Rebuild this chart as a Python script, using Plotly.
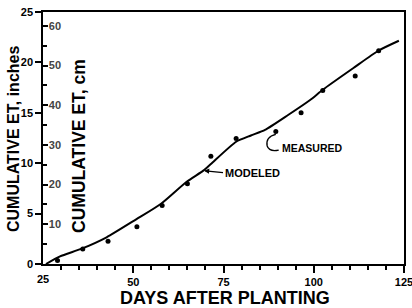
import plotly.graph_objects as go

# Measured cumulative ET (inches) by days after planting
measured_days = [29, 36, 43, 51, 58, 65, 71.5, 78.5, 89.5, 96.5, 102.5, 111.5, 118]
measured_et = [0.35, 1.5, 2.25, 3.7, 5.8, 7.95, 10.7, 12.45, 13.15, 15.0, 17.2, 18.65, 21.15]

# Modeled cumulative ET (inches)
modeled_days = [25.8, 29.7, 35.7, 42.6, 50.8, 57.6, 64.8, 69.4, 71.5, 78.5, 82.6, 86.5, 92.9, 99, 102.6, 111, 118, 123.6]
modeled_et = [0, 0.75, 1.52, 2.65, 4.43, 5.95, 8.16, 9.26, 9.92, 12.13, 12.75, 13.3, 14.78, 16.27, 17.31, 19.44, 21.18, 22.15]

inch_ticks = [0, 5, 10, 15, 20, 25]
cm_ticks = [10, 20, 30, 40, 50, 60]
day_ticks = [25, 50, 75, 100, 125]

FONT = "Liberation Sans, Arial, sans-serif"
NARROW = "Liberation Sans Narrow, Arial Narrow, Liberation Sans, sans-serif"

fig = go.Figure()
fig.add_trace(go.Scatter(x=modeled_days, y=modeled_et, mode="lines",
                         line=dict(color="black", width=2, shape="spline", smoothing=0.6),
                         showlegend=False, hoverinfo="skip"))
fig.add_trace(go.Scatter(x=measured_days, y=measured_et, mode="markers",
                         marker=dict(color="black", size=5),
                         showlegend=False))
# invisible trace to activate the cm axis
fig.add_trace(go.Scatter(x=[25], y=[0], yaxis="y2", mode="markers",
                         marker=dict(opacity=0), showlegend=False, hoverinfo="skip"))

fig.update_layout(
    width=412, height=308,
    margin=dict(l=43, r=8, t=12, b=44, autoexpand=False),
    paper_bgcolor="white", plot_bgcolor="white",
    font=dict(family=FONT, color="black"),
    xaxis=dict(range=[24.98, 125.02], tickvals=day_ticks, ticks="outside", ticklen=7,
               tickwidth=1.5, tickcolor="black",
               minor=dict(dtick=5, tick0=25, ticks="outside", ticklen=4, tickcolor="black"),
               showline=True, linecolor="black", linewidth=1.5, mirror=True,
               showgrid=False, zeroline=False, ticklabeloverflow="allow",
               tickfont=dict(size=11, weight="bold")),
    yaxis=dict(range=[0, 25], tickvals=inch_ticks, ticks="outside", ticklen=6,
               tickwidth=1.5, tickcolor="black",
               showline=True, linecolor="black", linewidth=1.5, mirror=True,
               showgrid=False, zeroline=False,
               tickfont=dict(size=11, weight="bold")),
    yaxis2=dict(range=[0, 25 * 2.54], tickvals=cm_ticks, overlaying="y", side="left",
                anchor="x", ticks="inside", ticklen=5, tickcolor="black", tickwidth=1.5,
                ticklabelposition="inside",
                minor=dict(dtick=5, tick0=0, ticks="inside", ticklen=4, tickcolor="black"),
                showline=False, showgrid=False, zeroline=False,
                tickfont=dict(size=11, weight="bold")),
)

# first x tick label (hidden by plotly at the axis corner)
fig.add_annotation(text=str(day_ticks[0]), x=day_ticks[0], xref="x", yref="paper",
                   y=-0.06, yanchor="middle", showarrow=False,
                   font=dict(size=11, weight="bold"))

fig.add_annotation(text="DAYS AFTER PLANTING", xref="paper", yref="paper",
                   x=0.504, y=-0.135, yanchor="middle", showarrow=False,
                   font=dict(family=NARROW, size=18, weight="bold"))
fig.add_annotation(text="CUMULATIVE ET, inches", xref="paper", yref="paper",
                   x=-0.083, xanchor="center", y=0.496, yanchor="middle",
                   textangle=-90, showarrow=False,
                   font=dict(family=NARROW, size=16, weight="bold"))
fig.add_annotation(text="CUMULATIVE ET, cm", xref="paper", yref="paper",
                   x=0.098, xanchor="center", y=0.47, yanchor="middle",
                   textangle=-90, showarrow=False,
                   font=dict(family=NARROW, size=17.5, weight="bold"))

fig.add_annotation(text="MODELED", x=69.6, y=9.26, ax=19, ay=2, axref="pixel", ayref="pixel",
                   xanchor="left", showarrow=True, arrowhead=2, arrowsize=0.8, arrowwidth=1.3,
                   arrowcolor="black", standoff=0, font=dict(size=11, weight="bold"))
fig.add_annotation(text="MEASURED", x=99.8, y=11.5, xanchor="center", showarrow=False,
                   font=dict(size=10.5, weight="bold"))
fig.add_shape(type="path", xref="x", yref="y",
              path="M 89.5,12.85 Q 86.6,12.6 87.1,11.7 Q 87.7,11.1 90.3,11.3",
              line=dict(color="black", width=1.3))

fig.write_html("out.html", config={"displayModeBar": False},
               post_script="document.body.style.margin='0px';")
